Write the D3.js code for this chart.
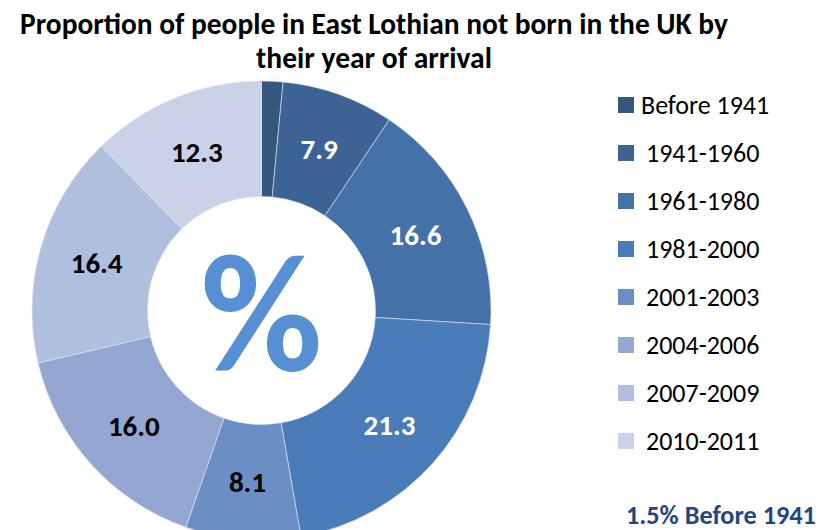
<!DOCTYPE html>
<html><head><meta charset="utf-8">
<script src="https://cdn.jsdelivr.net/npm/d3@7"></script>
<style>body{margin:0;background:#fff}svg{display:block}</style>
</head><body>
<script>
const categories = ["Before 1941","1941-1960","1961-1980","1981-2000","2001-2003","2004-2006","2007-2009","2010-2011"];
const values = [1.5, 7.9, 16.6, 21.3, 8.1, 16.0, 16.4, 12.3];
const colors = ["#34567f","#3c6393","#4371a8","#4a7cba","#6b8fc5","#93a7d1","#afbfdd","#c9d2e6"];
const labelColors = ["#fff","#fff","#fff","#fff","#000","#000","#000","#000"];
const titleLines = ["Proportion of people in East Lothian not born in the UK by","their year of arrival"];
const note = "1.5% Before 1941";

const W = 821, H = 530;
const font = "Carlito, Calibri, 'Open Sans', 'Noto Sans', sans-serif";
const svg = d3.select("body").append("svg").attr("width", W).attr("height", H);

// Title
const t1 = svg.append("text").attr("x", 374).attr("y", 34).attr("text-anchor","middle")
  .attr("font-family", font).attr("font-weight","bold").attr("font-size", 23).text(titleLines[0]);
const t2 = svg.append("text").attr("x", 374).attr("y", 68).attr("text-anchor","middle")
  .attr("font-family", font).attr("font-weight","bold").attr("font-size", 23).text(titleLines[1]);
[[t1,708],[t2,236]].forEach(([t,w])=>{const l=t.node().getComputedTextLength(); t.attr("font-size", 23*w/l);});

// Donut
const cx = 261.5, cy = 310.5, R = 229.5, r = 114;
const pie = d3.pie().sort(null).value(d=>d);
const arcs = pie(values);
const arc = d3.arc().innerRadius(r).outerRadius(R);
const g = svg.append("g").attr("transform", `translate(${cx},${cy})`);
g.selectAll("path").data(arcs).join("path")
  .attr("d", arc).attr("fill", (d,i)=>colors[i])
  .attr("stroke", "#dfe6f1").attr("stroke-width", 0.6);
g.selectAll("text.lbl").data(arcs.slice(1)).join("text").attr("class","lbl")
  .attr("transform", d=>`translate(${arc.centroid(d)})`)
  .attr("text-anchor","middle").attr("dy","0.36em")
  .attr("font-family", font).attr("font-weight","bold").attr("font-size", 29)
  .attr("fill", d=>labelColors[d.index])
  .text(d=>d3.format(".1f")(d.data));

// Center percent sign
const pct = g.append("text").attr("text-anchor","middle").attr("x", 0).attr("y", 60)
  .attr("font-family", font).attr("font-weight","bold").attr("font-size", 150)
  .attr("fill", "#568fd4").text("%");
{const l = pct.node().getComputedTextLength(); pct.attr("font-size", 150*122/l);}

// Legend
const legY0 = 105, legStep = 48;
const leg = svg.append("g");
categories.forEach((c,i)=>{
  const y = legY0 + i*legStep;
  leg.append("rect").attr("x", 618).attr("y", y-8).attr("width", 16).attr("height", 16).attr("fill", colors[i]);
  leg.append("text").attr("x", i===0?641:646).attr("y", y).attr("dy","0.35em")
    .attr("font-family", font).attr("font-size", 26).attr("fill","#000").text(c);
});

// Note
const nt = svg.append("text").attr("x", 626).attr("y", 524)
  .attr("font-family", font).attr("font-weight","bold").attr("font-size", 19)
  .attr("fill", "#1f497d").text(note);
{const l = nt.node().getComputedTextLength(); nt.attr("font-size", 19*190/l);}
</script>
</body></html>
